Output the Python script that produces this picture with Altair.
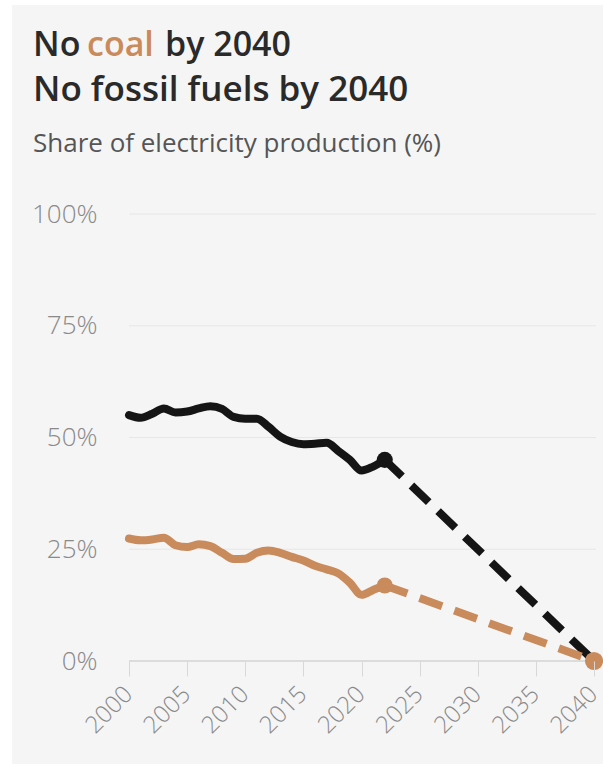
import altair as alt
import pandas as pd

# ---- data ----
years = list(range(2000, 2023))
fossil = [55.0, 54.4, 55.3, 56.5, 55.6, 55.8, 56.5, 57.0, 56.4, 54.6, 54.2, 54.2,
          52.4, 50.2, 49.0, 48.5, 48.6, 48.8, 47.0, 45.0, 42.6, 43.5, 45.0]
coal = [27.4, 27.0, 27.2, 27.6, 25.9, 25.5, 26.1, 25.7, 24.2, 22.8, 22.9, 24.2,
        24.7, 24.2, 23.3, 22.5, 21.3, 20.5, 19.6, 17.5, 14.8, 15.9, 16.9]
target_years = [2022, 2040]
fossil_target = [45.0, 0.0]
coal_target = [16.9, 0.0]
grid_values = [25, 50, 75, 100]
y_ticks = [0, 25, 50, 75, 100]
x_ticks = [2000, 2005, 2010, 2015, 2020, 2025, 2030, 2035, 2040]
series_names = ["Fossil fuels", "Coal"]
series_colors = ["#151515", "#c98a5c"]

hist = pd.DataFrame(
    [{"year": y, "value": v, "series": "Fossil fuels"} for y, v in zip(years, fossil)]
    + [{"year": y, "value": v, "series": "Coal"} for y, v in zip(years, coal)]
)
proj = pd.DataFrame(
    [{"year": y, "value": v, "series": "Fossil fuels"} for y, v in zip(target_years, fossil_target)]
    + [{"year": y, "value": v, "series": "Coal"} for y, v in zip(target_years, coal_target)]
)
pts_2022 = proj[proj["year"] == 2022]
pt_end = proj[(proj["year"] == 2040) & (proj["series"] == "Coal")]

W, H = 465, 447
PL, PT = 129, 214
FONT = "Open Sans"

xs = alt.Scale(domain=[2000, 2040])
ys = alt.Scale(domain=[0, 100])
cs = alt.Scale(domain=series_names, range=series_colors)

x_axis = alt.Axis(
    values=x_ticks, format="d", labelAngle=-45, grid=False, domain=False,
    tickSize=15, tickColor="#d8d8d8", tickWidth=1, labelColor="#8a8a8a",
    labelFontSize=24, labelFont=FONT, labelFontWeight=300, labelPadding=6,
    labelOffset=-9, zindex=1, title=None)
y_axis = alt.Axis(
    values=y_ticks, labelExpr="datum.value + '%'", grid=False,
    domain=False, ticks=False, labelPadding=32, labelColor="#8a8a8a",
    labelFontSize=26, labelFont=FONT, labelFontWeight=300, zindex=1, title=None)

X = alt.X("year:Q", scale=xs, axis=x_axis)
Y = alt.Y("value:Q", scale=ys, axis=y_axis)
C = alt.Color("series:N", scale=cs, legend=None)

one = alt.Data(values=[{}])

bg = alt.Chart(one).mark_rect(color="#f5f5f5").encode(
    x=alt.value(12 - PL), x2=alt.value(603 - PL),
    y=alt.value(5 - PT), y2=alt.value(764 - PT)
)

grid = alt.Chart(pd.DataFrame({"value": grid_values})).mark_rule(
    color="#e6e6e6", strokeWidth=1
).encode(y=Y, x=alt.value(0), x2=alt.value(W + 2))
base_line = alt.Chart(pd.DataFrame({"value": [0]})).mark_rule(
    color="#dcdcdc", strokeWidth=2
).encode(y=Y, x=alt.value(0), x2=alt.value(W + 2))

lines = alt.Chart(hist).mark_line(
    strokeWidth=8, strokeJoin="round", strokeCap="round", interpolate="monotone"
).encode(x=X, y=Y, color=C, detail="series:N")

dashes = alt.Chart(proj).mark_line(
    strokeWidth=8, strokeDash=[24, 13], strokeCap="butt"
).encode(x=X, y=Y, color=C, detail="series:N")

dots = alt.Chart(pts_2022).mark_circle(size=260, opacity=1).encode(x=X, y=Y, color=C)
end_dot = alt.Chart(pt_end).mark_circle(size=330, opacity=1).encode(x=X, y=Y, color=C)


def txt(s, x, y, color, size, weight="normal"):
    return alt.Chart(one).mark_text(
        align="left", baseline="alphabetic", font=FONT, fontSize=size,
        fontWeight=weight, color=color
    ).encode(x=alt.value(x - PL), y=alt.value(y - PT), text=alt.value(s))


title_color = "#2a2a2a"
t1a = txt("No", 33, 56, title_color, 34, 600)
t1b = txt("coal", 87, 56, series_colors[1], 34, 600)
t1c = txt("by 2040", 165, 56, title_color, 34, 600)
t2 = txt("No fossil fuels by 2040", 33, 101, title_color, 35, 600)
t3 = txt("Share of electricity production (%)", 33, 152, "#555555", 26)

chart = alt.layer(
    bg, grid, base_line, lines, dashes, dots, end_dot, t1a, t1b, t1c, t2, t3
).properties(
    width=W, height=H,
    padding={"left": PL, "top": PT, "right": 603 - PL - W, "bottom": 764 - PT - H},
    autosize=alt.AutoSizeParams(type="none"),
    background="white",
).configure_view(stroke=None)

chart.save("out.html", embed_options={"renderer": "svg", "actions": False})
